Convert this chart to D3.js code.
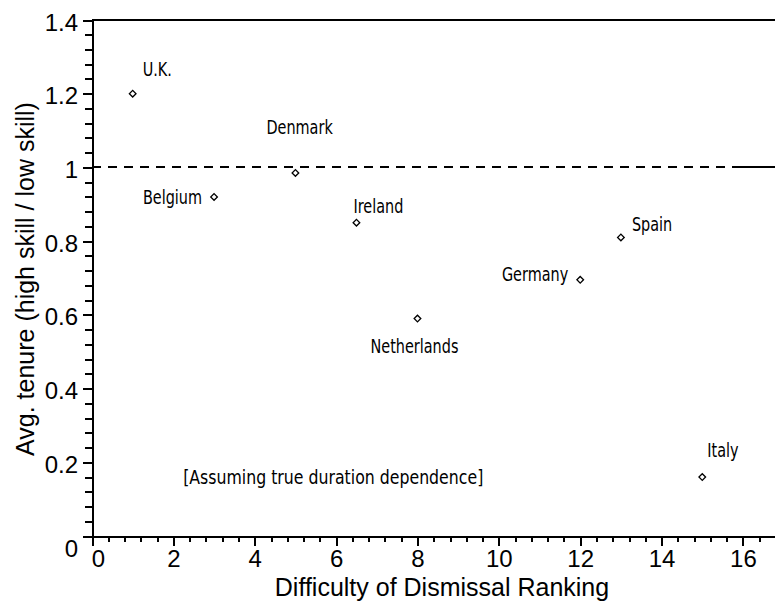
<!DOCTYPE html>
<html>
<head>
<meta charset="utf-8">
<script src="https://cdn.jsdelivr.net/npm/d3@7"></script>
<style>
    body { margin: 0; background: #fff; }
    .axis path, .axis line { stroke: #000; stroke-width: 2px; shape-rendering: crispEdges; }
    .axis text { font-family: "Liberation Sans", Arial, sans-serif; font-size: 24px; fill: #000; }
    .label { font-family: "DejaVu Sans", sans-serif; font-size: 19px; fill: #000; }
    .title { font-family: "Liberation Sans", Arial, sans-serif; font-size: 25px; fill: #000; }
</style>
</head>
<body>
<div id="vis"></div>
<script>
// data
var countries = ["U.K.", "Belgium", "Denmark", "Ireland", "Netherlands", "Germany", "Spain", "Italy"];
var ranking = [1, 3, 5, 6.5, 8, 12, 13, 15];
var tenureRatio = [1.2, 0.92, 0.985, 0.85, 0.59, 0.695, 0.81, 0.16];
var xTicks = [0, 2, 4, 6, 8, 10, 12, 14, 16];
var yTicks = [0, 0.2, 0.4, 0.6, 0.8, 1, 1.2, 1.4];
var refLine = 1;
var note = "[Assuming true duration dependence]";

// label placement relative to each point (pixels): dx, dy, anchor
var labelPos = {
    "U.K.": [10, -18, "start"],
    "Belgium": [-12, 7, "end"],
    "Denmark": [-29, -39, "start"],
    "Ireland": [-3, -10, "start"],
    "Netherlands": [-3, 34, "middle"],
    "Germany": [-12, 1, "end"],
    "Spain": [11, -6, "start"],
    "Italy": [5, -20, "start"]
};
var squeeze = 0.76; // labels in the original use a narrow font

var width = 775,
    height = 604;

var svg = d3.select("#vis").append("svg")
    .attr("width", width)
    .attr("height", height);

var x = d3.scaleLinear().domain([0, 16.8]).range([92, 775.5]);
var y = d3.scaleLinear().domain([0, 1.4]).range([536, 20]);

var data = countries.map(function(c, i) {
    return { country: c, rank: ranking[i], ratio: tenureRatio[i] };
});

// minor ticks first
svg.append("g")
    .attr("class", "axis")
    .attr("transform", "translate(0,536)")
    .call(d3.axisBottom(x).tickValues(d3.range(0, 16.81, 0.4)).tickSize(6).tickSizeOuter(0).tickFormat(""));

svg.append("g")
    .attr("class", "axis")
    .attr("transform", "translate(92,0)")
    .call(d3.axisLeft(y).tickValues(d3.range(0, 1.401, 0.04)).tickSize(7).tickSizeOuter(0).tickFormat(""));

// major ticks
var gx = svg.append("g")
    .attr("class", "axis")
    .attr("transform", "translate(0,536)")
    .call(d3.axisBottom(x).tickValues(xTicks).tickSize(10).tickSizeOuter(0).tickPadding(4).tickFormat(d3.format("d")));

gx.selectAll(".tick text")
    .attr("dx", function(d) { return d === 0 ? 6 : 0; });

var gy = svg.append("g")
    .attr("class", "axis")
    .attr("transform", "translate(92,0)")
    .call(d3.axisLeft(y).tickValues(yTicks).tickSize(9).tickSizeOuter(0).tickPadding(5).tickFormat(function(d) { return d; }));

gy.selectAll(".tick text")
    .attr("dy", function(d) { return d === 0 ? "0.85em" : "0.42em"; });

// top frame line
svg.append("line")
    .attr("x1", x(0)).attr("x2", x(16.8))
    .attr("y1", y(1.4)).attr("y2", y(1.4))
    .style("stroke", "#000")
    .style("stroke-width", 2)
    .style("shape-rendering", "crispEdges");

// reference line at 1
svg.append("line")
    .attr("x1", x(0)).attr("x2", x(15.8))
    .attr("y1", y(refLine)).attr("y2", y(refLine))
    .style("stroke", "#000")
    .style("stroke-width", 2)
    .style("stroke-dasharray", "9,7")
    .style("shape-rendering", "crispEdges");

svg.append("line")
    .attr("x1", x(15.8)).attr("x2", x(16.8))
    .attr("y1", y(refLine)).attr("y2", y(refLine))
    .style("stroke", "#000")
    .style("stroke-width", 2)
    .style("shape-rendering", "crispEdges");

// points
svg.selectAll(".pt")
    .data(data)
    .enter()
    .append("path")
    .attr("class", "pt")
    .attr("d", d3.symbol().type(d3.symbolSquare).size(22))
    .attr("transform", function(d) {
        return "translate(" + x(d.rank) + "," + y(d.ratio) + ") rotate(45)";
    })
    .style("fill", "#fff")
    .style("stroke", "#000")
    .style("stroke-width", 1.3);

svg.selectAll(".label")
    .data(data)
    .enter()
    .append("text")
    .attr("class", "label")
    .attr("transform", function(d) {
        var p = labelPos[d.country];
        return "translate(" + (x(d.rank) + p[0]) + "," + (y(d.ratio) + p[1]) + ") scale(" + squeeze + ",1)";
    })
    .attr("text-anchor", function(d) { return labelPos[d.country][2]; })
    .text(function(d) { return d.country; });

// note
svg.append("text")
    .attr("class", "label")
    .attr("transform", "translate(" + x(2.24) + "," + y(0.141) + ") scale(0.83,1)")
    .text(note);

// axis titles
svg.append("text")
    .attr("class", "title")
    .attr("x", 442)
    .attr("y", 596)
    .attr("text-anchor", "middle")
    .text("Difficulty of Dismissal Ranking");

svg.append("text")
    .attr("class", "title")
    .attr("transform", "translate(34,279) rotate(-90)")
    .attr("text-anchor", "middle")
    .text("Avg. tenure (high skill / low skill)");
</script>
</body>
</html>
